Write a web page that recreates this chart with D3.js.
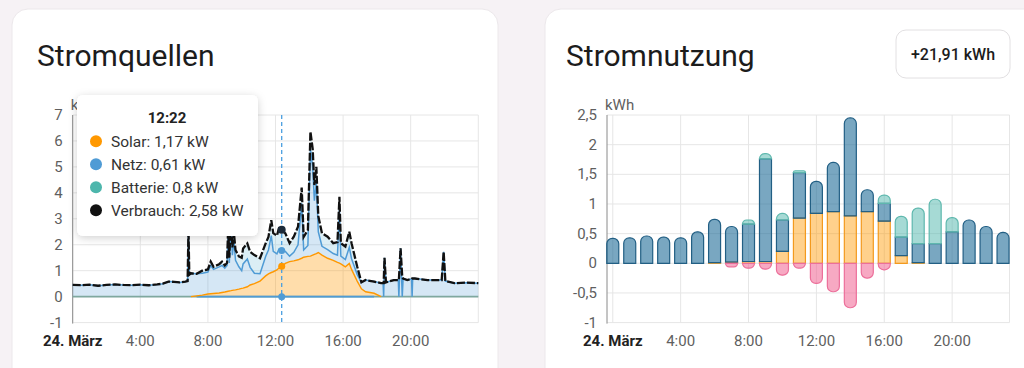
<!DOCTYPE html>
<html><head><meta charset="utf-8">
<script src="https://cdn.jsdelivr.net/npm/d3@7"></script>
<style>
html,body{margin:0;padding:0;background:#f6f2f5;overflow:hidden;}
svg{display:block;font-family:Roboto,"Noto Sans",sans-serif;}
</style></head><body>
<svg id="c" width="1024" height="368"></svg>
<script>
// ---------- Left chart: Stromquellen (kW) ----------
const times = [
 "0:00","0:30","1:00","1:30","2:00","2:30","3:00","3:30","4:00","4:30",
 "5:00","5:20","5:40","6:00","6:20","6:40","6:48","6:51","6:54","7:00",
 "7:20","7:40","8:00","8:10","8:20","8:40","8:50","9:00","9:08","9:12",
 "9:16","9:22","9:27","9:32","9:38","9:50","10:00","10:05","10:20","10:30",
 "10:45","11:05","11:25","11:35","11:45","11:52","12:05","12:12","12:22","12:35",
 "12:50","13:05","13:20","13:33","13:40","13:55","14:04","14:12","14:18","14:25",
 "14:32","14:45","15:05","15:25","15:40","15:47","15:52","16:08","16:22","16:30",
 "16:50","17:05","17:20","17:50","18:15","18:22","18:24","18:27","18:32","19:00",
 "19:16","19:18","19:24","19:30","19:33","19:48","20:03","20:05","20:07","20:15",
 "21:00","21:50","21:57","22:03","22:35","23:20","24:00"];
const solar = [
 0,0,0,0,0,0,0,0,0,0,
 0,0,0,0,0,0,0,0,0,0,
 0.03,0.06,0.10,0.11,0.12,0.14,0.16,0.18,0.20,0.21,
 0.22,0.23,0.24,0.25,0.26,0.29,0.32,0.33,0.38,0.45,
 0.50,0.60,0.80,0.88,0.93,0.96,1.03,1.10,1.17,1.28,
 1.35,1.38,1.42,1.48,1.52,1.55,1.56,1.60,1.63,1.66,
 1.70,1.60,1.48,1.40,1.32,1.29,1.26,1.15,1.28,1.05,
 0.60,0.30,0.19,0.13,0,0,0,0,0,0,
 0,0,0,0,0,0,0,0,0,0,
 0,0,0,0,0,0,0];
const netz = [
 0.45,0.44,0.46,0.42,0.45,0.47,0.45,0.44,0.46,0.44,
 0.47,0.50,0.58,0.57,0.55,0.58,0.60,2.60,0.85,0.90,
 0.85,0.84,0.85,1.09,0.93,1.01,1.04,0.92,1.00,2.39,
 1.08,2.57,1.36,1.95,1.14,0.86,0.68,0.93,1.07,0.68,
 0.40,0.28,0.75,0.92,1.42,0.79,0.62,0.73,0.61,0.46,
 0.21,0.33,0.58,2.12,0.28,0.42,4.10,3.40,2.07,2.74,
 0.80,0.34,0.33,0.26,0.28,2.06,0.30,0.28,0.62,0.41,
 0.26,0.25,0.45,0.45,0.52,0.52,0,1.50,0.55,0.64,
 0.64,0,1.86,0,0.70,0.64,0.68,0,0.70,0.70,
 0.64,0.64,1.73,0.60,0.52,0.54,0.52];
const batterie = [
 0,0,0,0,0,0,0,0,0,0,
 0,0,0,0,0,0,0,0,0,0,
 0,0.10,0.10,0.15,0.10,0.10,0.15,0.10,0.10,0.10,
 0.20,0.20,0.30,0.30,0.40,0.40,0.50,0.60,0.60,0.60,
 0.70,0.60,0.50,0.50,0.60,0.70,0.70,0.80,0.80,0.70,
 0.50,0.60,0.70,0.60,0.50,0.60,0.70,0.70,0.60,0.60,
 0.60,0.50,0.50,0.40,0.50,0.50,0.50,0.50,0.60,0.60,
 0.30,0,0,0,0,0,0.52,0,0,0,
 0,0.64,0,0.75,0,0,0,0.70,0,0,
 0,0,0,0,0,0,0];
const tooltipTime = "12:22";
const leftYTicks = [-1,0,1,2,3,4,5,6,7];

// ---------- Right chart: Stromnutzung (kWh per hour) ----------
const hours = [0,1,2,3,4,5,6,7,8,9,10,11,12,13,14,15,16,17,18,19,20,21,22,23];
const usageSolar = [0,0,0,0,0,0,0.01,0.02,0.03,0.03,0.20,0.76,0.84,0.87,0.80,0.87,0.71,0.13,0.01,0,0,0,0,0];
const usageNetz = [0.42,0.43,0.46,0.44,0.43,0.53,0.73,0.60,0.63,1.73,0.53,0.77,0.54,0.83,1.65,0.37,0.30,0.31,0.32,0.33,0.53,0.73,0.62,0.52];
const usageBatterie = [0,0,0,0,0,0,0,0,0.07,0.09,0.11,0.03,0,0,0,0,0.14,0.35,0.60,0.75,0.24,0,0,0];
const usageLaden = [0,0,0,0,0,0,0,-0.06,-0.08,-0.10,-0.20,-0.08,-0.34,-0.48,-0.75,-0.25,-0.11,0,0,0,0,0,0,0];
const rightYTicks = [-1,-0.5,0,0.5,1,1.5,2,2.5];
const totalLabel = "+21,91 kWh";

const xTickHours = [0,4,8,12,16,20];
const xTickLabels = ["24. März","4:00","8:00","12:00","16:00","20:00"];

// ---------- helpers ----------
const toH = s => { const [h,m] = s.split(":").map(Number); return h + m/60; };
const fmt = v => String(+v.toFixed(2)).replace(".", ",");
const svg = d3.select("#c");

const defs = svg.append("defs");
const f = defs.append("filter").attr("id","sh").attr("x","-20%").attr("y","-20%").attr("width","140%").attr("height","150%");
f.append("feDropShadow").attr("dx",0).attr("dy",2).attr("stdDeviation",4).attr("flood-color","#000").attr("flood-opacity",0.18);

// cards
svg.append("rect").attr("x",12).attr("y",9).attr("width",486).attr("height",390).attr("rx",16).attr("fill","#fff").attr("stroke","#ece8eb");
svg.append("rect").attr("x",545).attr("y",9).attr("width",500).attr("height",390).attr("rx",16).attr("fill","#fff").attr("stroke","#ece8eb");

svg.append("text").attr("x",37).attr("y",66).attr("font-size",30).attr("fill","#1c1c1c").text("Stromquellen");
svg.append("text").attr("x",566).attr("y",66).attr("font-size",30).attr("fill","#1c1c1c").text("Stromnutzung");
svg.append("rect").attr("x",896).attr("y",30).attr("width",114).attr("height",48).attr("rx",10).attr("fill","#fff").attr("stroke","#e2e0e2");
svg.append("text").attr("x",953).attr("y",60).attr("text-anchor","middle").attr("font-size",16).attr("font-weight",500).attr("fill","#1c1c1c").text(totalLabel);

function drawAxes(g, x, y, yTicks, xMin, xMax, unit, yFmt){
  const grid = g.append("g");
  yTicks.forEach(v => {
    grid.append("line").attr("x1",xMin).attr("x2",xMax).attr("y1",y(v)).attr("y2",y(v)).attr("stroke","#e6e6e6");
    g.append("text").attr("x",xMin-10).attr("y",y(v)+5).attr("text-anchor","end").attr("font-size",15).attr("fill","#5f5f5f").text(yFmt(v));
  });
  xTickHours.forEach((h,i) => {
    grid.append("line").attr("x1",x(h)).attr("x2",x(h)).attr("y1",y(yTicks[yTicks.length-1])).attr("y2",y(yTicks[0])).attr("stroke","#e6e6e6");
    g.append("text").attr("x",x(h)).attr("y",346).attr("text-anchor","middle").attr("font-size",15)
      .attr("font-weight", i===0 ? 700 : 400).attr("fill", i===0 ? "#222" : "#5f5f5f").text(xTickLabels[i]);
  });
  grid.append("line").attr("x1",xMax).attr("x2",xMax).attr("y1",y(yTicks[yTicks.length-1])).attr("y2",y(yTicks[0])).attr("stroke","#e6e6e6");
  g.append("line").attr("x1",xMin).attr("x2",xMin).attr("y1",y(yTicks[yTicks.length-1])).attr("y2",y(yTicks[0])+1).attr("stroke","#8a8a8a");
  g.append("text").attr("x",xMin-2).attr("y",110).attr("font-size",15).attr("fill","#5f5f5f").text(unit);
}

// ---------- left chart ----------
const xL = d3.scaleLinear().domain([0,24]).range([72.7,478.3]);
const yL = d3.scaleLinear().domain([-1,7]).range([322.6,115]);
const gL = svg.append("g");
drawAxes(gL, xL, yL, leftYTicks, 72.7, 478.3, "kW", v => String(v));

const rows = times.map((t,i) => ({t:toH(t), solar:solar[i], netz:netz[i], batterie:batterie[i]}));
const stack = d3.stack().keys(["solar","netz","batterie"])(rows);
const area = d3.area().x(d => xL(d.data.t)).y0(d => yL(d[0])).y1(d => yL(d[1]));
const line = d3.line().x(d => xL(d.data.t)).y(d => yL(d[1]));
const fills = [["#ff9800",0.33],["#4f9bd5",0.24],["#7cc3dc",0.28]];
stack.forEach((s,i) => gL.append("path").attr("d",area(s)).attr("fill",fills[i][0]).attr("fill-opacity",fills[i][1]));
// zero line
gL.append("line").attr("x1",xL(0)).attr("x2",xL(24)).attr("y1",yL(0)).attr("y2",yL(0)).attr("stroke","#7fa89f").attr("stroke-width",1.6);
const solarOn = rows.filter(r => r.solar > 0);
gL.append("line").attr("x1",xL(solarOn[0].t)).attr("x2",xL(solarOn[solarOn.length-1].t)).attr("y1",yL(0)).attr("y2",yL(0)).attr("stroke","#4f9bd5").attr("stroke-width",1.6);
const solarLine = d3.line().defined((d,i) => solar[i] > 0 || solar[i-1] > 0 || solar[i+1] > 0)
  .x(d => xL(d.data.t)).y(d => yL(d[1]));
gL.append("path").attr("d",solarLine(stack[0])).attr("fill","none").attr("stroke","#ff9800").attr("stroke-width",1.4);
gL.append("path").attr("d",line(stack[1])).attr("fill","none").attr("stroke","#4f9bd5").attr("stroke-width",1.5);
gL.append("path").attr("d",line(stack[2])).attr("fill","none").attr("stroke","#111").attr("stroke-width",2.3).attr("stroke-dasharray","8,2");

// hover marker
const ti = times.indexOf(tooltipTime);
const tx = xL(toH(tooltipTime));
gL.append("line").attr("x1",tx).attr("x2",tx).attr("y1",yL(7)).attr("y2",yL(-1)).attr("stroke","#4a9fe0").attr("stroke-width",1.3).attr("stroke-dasharray","4,3");
gL.append("circle").attr("cx",tx).attr("cy",yL(0)).attr("r",3.5).attr("fill","#4f9bd5");
gL.append("circle").attr("cx",tx).attr("cy",yL(stack[0][ti][1])).attr("r",3.5).attr("fill","#ff9800");
gL.append("circle").attr("cx",tx).attr("cy",yL(stack[1][ti][1])).attr("r",3.5).attr("fill","#4f9bd5");
gL.append("circle").attr("cx",tx).attr("cy",yL(stack[2][ti][1])).attr("r",4).attr("fill","#1b2a3a");

// tooltip
const tt = svg.append("g");
tt.append("rect").attr("x",77).attr("y",95).attr("width",181).attr("height",141).attr("rx",6).attr("fill","#fff").attr("filter","url(#sh)");
tt.append("text").attr("x",167).attr("y",123).attr("text-anchor","middle").attr("font-size",15).attr("font-weight",700).attr("fill","#222").text(tooltipTime);
const ttRows = [
  ["Solar", solar[ti], "#ff9800"],
  ["Netz", netz[ti], "#4f9bd5"],
  ["Batterie", batterie[ti], "#4db6ac"],
  ["Verbrauch", solar[ti]+netz[ti]+batterie[ti], "#111"]];
ttRows.forEach((r,i) => {
  const yy = 146.7 + i*23;
  tt.append("circle").attr("cx",96).attr("cy",yy-5.5).attr("r",6).attr("fill",r[2]);
  tt.append("text").attr("x",111).attr("y",yy).attr("font-size",15.5).attr("fill","#333").text(`${r[0]}: ${fmt(r[1])} kW`);
});

// ---------- right chart ----------
const xR = d3.scaleLinear().domain([-0.34,23.38]).range([607,1009.5]);
const yR = d3.scaleLinear().domain([-1,2.5]).range([322.6,115]);
const gR = svg.append("g");
drawAxes(gR, xR, yR, rightYTicks, 607, 1009.5, "kWh", v => String(v).replace(".",","));

function barPath(x, w, yTop, yBot, rTop, rBot){
  const h = yBot - yTop;
  rTop = Math.min(rTop, h, w/2); rBot = Math.min(rBot, Math.max(0,h - rTop), w/2);
  const x1 = x + w;
  let p = `M${x},${yBot - rBot}L${x},${yTop + rTop}`;
  if (rTop>0) p += `A${rTop},${rTop} 0 0 1 ${x+rTop},${yTop}`;
  p += `L${x1 - rTop},${yTop}`;
  if (rTop>0) p += `A${rTop},${rTop} 0 0 1 ${x1},${yTop+rTop}`;
  p += `L${x1},${yBot - rBot}`;
  if (rBot>0) p += `A${rBot},${rBot} 0 0 1 ${x1-rBot},${yBot}`;
  p += `L${x+rBot},${yBot}`;
  if (rBot>0) p += `A${rBot},${rBot} 0 0 1 ${x},${yBot-rBot}`;
  return p + "Z";
}
const bw = 12, R = 5.5;
const uRows = hours.map((h,i) => ({h, solar:usageSolar[i], netz:usageNetz[i], batterie:usageBatterie[i]}));
const uStack = d3.stack().keys(["solar","netz","batterie"])(uRows);
const uStyle = [["#ff9800",0.45,"#f39a1e"],["#1f6c98",0.6,"#225f84"],["#4db6ac",0.5,"#5fb8ae"]];
hours.forEach((h,i) => {
  const bx = xR(h) - bw/2;
  let topK = -1;
  uStack.forEach((s,k) => { if (s[i][1]-s[i][0] > 0) topK = k; });
  uStack.forEach((s,k) => {
    const v0 = s[i][0], v1 = s[i][1];
    if (v1 - v0 <= 0) return;
    gR.append("path").attr("d", barPath(bx, bw, yR(v1), yR(v0), k===topK ? R : 0, 0))
      .attr("fill", uStyle[k][0]).attr("fill-opacity", uStyle[k][1]).attr("stroke", uStyle[k][2]).attr("stroke-width",1.2);
  });
  if (usageLaden[i] < 0) {
    gR.append("path").attr("d", barPath(bx, bw, yR(0), yR(usageLaden[i]), 0, R))
      .attr("fill", "#f06292").attr("fill-opacity",0.55).attr("stroke","#ec6f9a").attr("stroke-width",1.2);
  }
});
</script>
</body></html>
